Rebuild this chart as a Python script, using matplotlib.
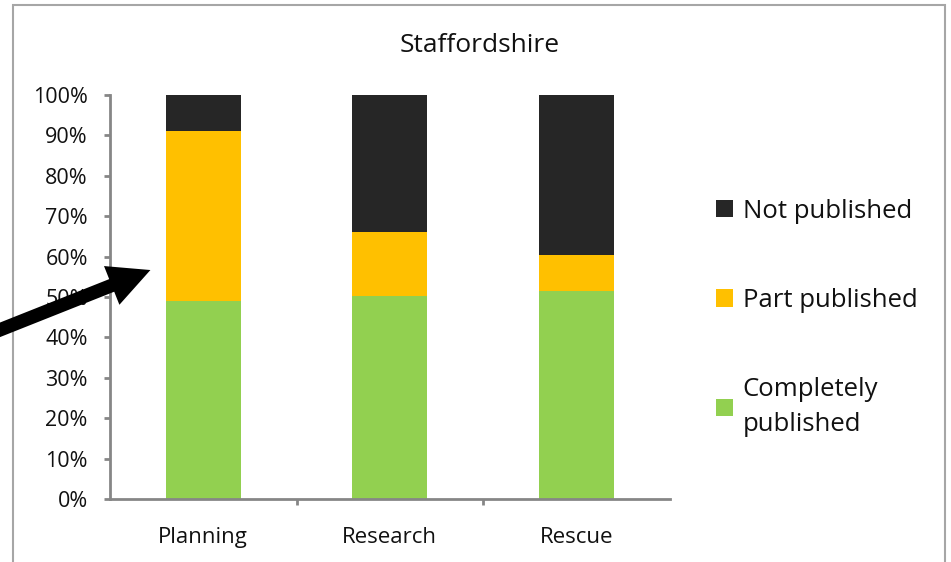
import numpy as np
import matplotlib
matplotlib.use("Agg")
import matplotlib.pyplot as plt
from matplotlib.patches import Rectangle, FancyArrowPatch
from matplotlib.ticker import PercentFormatter

plt.rcParams['font.family'] = ['Open Sans', 'DejaVu Sans']

categories = ['Planning', 'Research', 'Rescue']
completely = [49.1, 50.3, 51.6]
part = [42.1, 15.9, 8.8]
not_pub = [8.8, 33.8, 39.6]

green = '#92D050'
orange = '#FFC000'
black = '#262626'
axis_grey = '#868686'

fig = plt.figure(figsize=(9.51, 5.62), dpi=100)
ax = fig.add_axes([110/951, 63/562, 559.5/951, 404/562])

x = np.arange(len(categories))
w = 0.4
bottom2 = np.array(completely)
bottom3 = bottom2 + np.array(part)
b1 = ax.bar(x, completely, w, color=green, label='Completely\npublished')
b2 = ax.bar(x, part, w, bottom=bottom2, color=orange, label='Part published')
b3 = ax.bar(x, not_pub, w, bottom=bottom3, color=black, label='Not published')

ax.set_xlim(-0.5, 2.5)
ax.set_ylim(0, 100)
ax.set_yticks(np.arange(0, 101, 10))
ax.yaxis.set_major_formatter(PercentFormatter(decimals=0))
ax.set_xticks(x)
ax.set_xticklabels(categories)
ax.set_xticks([0.5, 1.5], minor=True)

for s in ['top', 'right']:
    ax.spines[s].set_visible(False)
for s in ['left', 'bottom']:
    ax.spines[s].set_color(axis_grey)
    ax.spines[s].set_linewidth(2)

ax.tick_params(axis='y', which='major', length=4, width=2, color=axis_grey,
               pad=12, labelsize=15.5, labelcolor='#111111')
ax.tick_params(axis='x', which='major', length=0, pad=20, labelsize=16,
               labelcolor='#111111')
ax.tick_params(axis='x', which='minor', length=4, width=2, color=axis_grey)

fig.text(480/951, 1 - 46/562, 'Staffordshire', ha='center', va='center',
         fontsize=19, color='#111111')

leg = fig.legend(handles=[b3, b2, b1], loc='upper left',
                 bbox_to_anchor=(703/951, 1 - 186/562), frameon=False,
                 fontsize=18.5, handlelength=0.65, handleheight=0.65,
                 handletextpad=0.4, labelspacing=2.5, borderpad=0,
                 labelcolor='#111111')
for t in leg.get_texts():
    t.set_linespacing(1.5)

# border of the chart area
fig.add_artist(Rectangle((13/951, -0.1), 932/951, 1.1 - 5/562,
                         transform=fig.transFigure, fill=False,
                         edgecolor='#A6A6A6', linewidth=1.5))

# black arrow pointing at the Planning bar
arrow = FancyArrowPatch((-8/951, 1 - 333/562), (153/951, 1 - 269/562),
                        transform=fig.transFigure,
                        arrowstyle='simple,head_width=2,head_length=2,tail_width=0.65',
                        mutation_scale=15, color='black', lw=0)
fig.add_artist(arrow)

fig.savefig('out.png', dpi=100)
